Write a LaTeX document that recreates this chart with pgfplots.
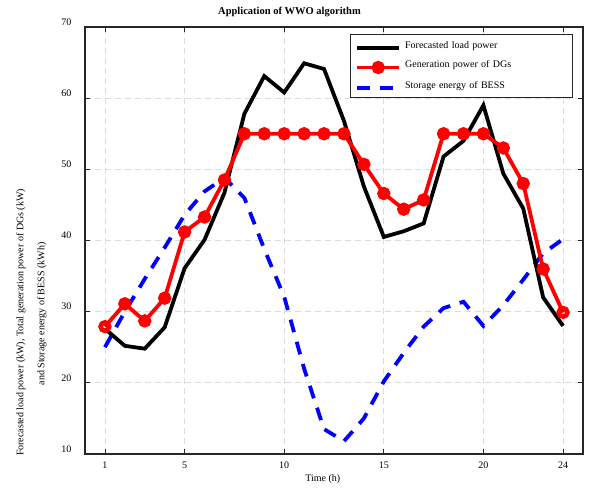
\documentclass[border=0pt]{standalone}
\usepackage{fontspec}
\setmainfont{Liberation Serif}
\usepackage{pgfplots}
\pgfplotsset{compat=1.18}

% hourly values
\pgfplotstableread{
t   load  dg    bess
1   27.6  27.9  25.0
2   25.2  31.1  30.0
3   24.8  28.7  34.6
4   27.8  31.9  39.0
5   36.1  41.2  43.6
6   40.1  43.3  46.9
7   46.7  48.5  48.8
8   57.8  55.0  46.0
9   63.1  55.0  38.8
10  60.8  55.0  32.1
11  64.9  55.0  22.0
12  64.1  55.0  13.5
13  56.8  55.0  11.8
14  47.6  50.7  15.0
15  40.5  46.6  20.2
16  41.3  44.4  24.2
17  42.4  45.7  27.9
18  51.8  55.0  30.5
19  54.0  55.0  31.4
20  59.0  55.0  28.0
21  49.4  53.0  30.9
22  44.5  48.0  34.5
23  32.0  36.0  38.2
24  28.0  29.9  40.2
}\wwo

\begin{document}
\fontsize{10bp}{12bp}\selectfont
\begin{tikzpicture}
  \begin{axis}[
    at={(0,0)}, anchor=south west,
    scale only axis, width=498bp, height=427bp,
    xmin=0, xmax=25, ymin=10, ymax=70,
    xtick={1,5,10,15,20,24}, ytick={10,20,...,70},
    tick align=inside, major tick length=5bp,
    tick style={line width=0.8bp, color=black!85},
    axis line style={line width=1.3bp, color=black!85},
    grid=major,
    grid style={line width=0.8bp, color=black!14, dash pattern=on 6bp off 4bp},
    /pgf/number format/assume math mode=true,
    tick label style={font=\fontsize{10bp}{12bp}\selectfont},
    xticklabel style={yshift=-4.4bp},
    yticklabel style={xshift=-10bp, yshift=5bp},
    legend cell align=left,
    legend image code/.code={
      \draw[mark repeat=2, mark phase=2] plot coordinates {(0bp,-2.5bp) (21bp,-2.5bp) (42bp,-2.5bp)};
    },
    legend style={
      at={(0.979,0.984)}, anchor=north east,
      draw=black!85, line width=0.8bp,
      inner xsep=5bp, inner ysep=6bp, row sep=8.3bp,
      font=\fontsize{10bp}{12bp}\selectfont,
      nodes={inner xsep=4bp, inner ysep=1bp, text height=7bp, text depth=2bp, text width=158bp},
    },
  ]
    \addlegendimage{black, line width=3.8bp}
    \addlegendentry{Forecasted load power}
    \addlegendimage{red, line width=3.8bp, mark=o, mark size=4.3bp, mark options={solid, line width=4.6bp}}
    \addlegendentry{Generation power of DGs}
    \addlegendimage{blue, line width=3.8bp, dash pattern=on 13bp off 10bp}
    \addlegendentry{Storage energy of BESS}

    \addplot[blue, line width=3.8bp, dash pattern=on 13bp off 10bp, forget plot] table[x=t, y=bess] {\wwo};
    \addplot[black, line width=3.8bp, forget plot] table[x=t, y=load] {\wwo};
    \addplot[red, line width=3.8bp, mark=o, mark size=4.3bp, mark options={solid, line width=4.6bp}, forget plot] table[x=t, y=dg] {\wwo};
  \end{axis}

  \node[font=\bfseries\fontsize{10.5bp}{12bp}\selectfont, anchor=base] at (204.5bp, 439bp) {Application of WWO algorithm};
  \node[anchor=base] at (237.8bp, -27bp) {Time (h)};
  \node[rotate=90] at (-64bp, 131.5bp) {Forecasted load power (kW), Total generation power of DGs (kW)};
  \node[rotate=90] at (-43bp, 140bp) {and Storage energy of BESS (kWh)};

  \pgfresetboundingbox
  \path[use as bounding box] (-85bp,-41bp) rectangle (504bp,454bp);
\end{tikzpicture}
\end{document}
